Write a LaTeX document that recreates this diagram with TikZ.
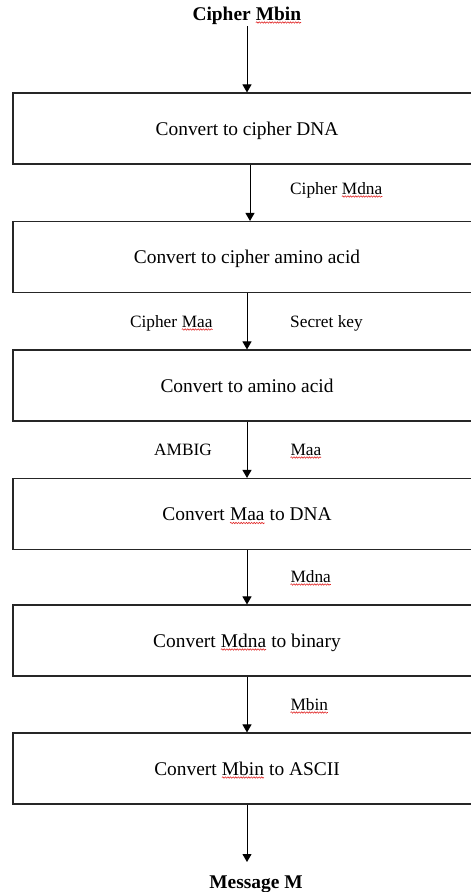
\documentclass[tikz,border=0pt]{standalone}
\usepackage{fontspec}
\setmainfont{Liberation Serif}
\usepackage{tikz}
\usetikzlibrary{arrows.meta,positioning,decorations.pathmorphing}
\definecolor{spell}{RGB}{225,40,40}
\newcommand{\wavy}[1]{\tikz[baseline=(w.base)]{\node[draw=none,inner sep=0pt,outer sep=0pt,minimum size=0pt,
    text height={},text depth={}](w){#1};
  \draw[spell,line width=0.6pt,decorate,decoration={snake,amplitude=0.7pt,segment length=2.6pt}]
  ([yshift=-2.5pt]w.base west)--([yshift=-2.5pt]w.base east);}}

\begin{document}
\begin{tikzpicture}[x=1pt,y=-1pt,
    box/.style={draw=black!85,line width=1.1pt,minimum width=468pt,minimum height=71pt,
      inner sep=0pt,text height=13pt,text depth=0pt,font=\fontsize{19.4pt}{23pt}\selectfont},
    lbl/.style={inner sep=0pt,font=\fontsize{17.3pt}{20pt}\selectfont},
    arr/.style={line width=1pt,-{Triangle[width=9pt,length=8pt]}}]
      \useasboundingbox (0,0) rectangle (471,892);
      \clip (0,0) rectangle (471,892);
      \node[inner sep=2pt,anchor=base,font=\fontsize{19.4pt}{23pt}\selectfont\bfseries] (cin) at (247,20){Cipher \wavy{Mbin}};
      \foreach \n/\y/\t in {b1/128.5/{Convert to cipher DNA},b2/257/{Convert to cipher amino acid},
          b3/385.5/{Convert to amino acid},b4/514/{Convert \wavy{Maa} to DNA},
          b5/640.5/{Convert \wavy{Mdna} to binary},b6/768.5/{Convert \wavy{Mbin} to ASCII}}
        {\node[box] (\n) at (247,\y){\t};}
      \node[inner sep=0pt,anchor=base,font=\fontsize{19.4pt}{23pt}\selectfont\bfseries] (msg) at (256,888){Message M};
      \coordinate (end) at (247,862);
      \draw[arr](cin.south)--(b1.north);
      \draw[arr]([xshift=3pt]b1.south)--([xshift=3pt]b2.north);
      \foreach \a/\b in {b2/b3,b3/b4,b4/b5,b5/b6}{\draw[arr](\a.south)--(\b.north);}
      \draw[arr](b6.south)--(end);
      \node[lbl,anchor=base west] (l1) at (290,194){Cipher \wavy{Mdna}};
      \node[lbl,anchor=base east] (l2) at (213,327){Cipher \wavy{Maa}};
      \node[lbl,anchor=base west] (l3) at (290,327){Secret key};
      \node[lbl,anchor=base east] (l4) at (212,455){AMBIG};
      \node[lbl,anchor=base west] (l5) at (290,455){\wavy{Maa}};
      \node[lbl,anchor=base west] (l6) at (290,582){\wavy{Mdna}};
      \node[lbl,anchor=base west] (l7) at (290,710){\wavy{Mbin}};
    \end{tikzpicture}
\end{document}
